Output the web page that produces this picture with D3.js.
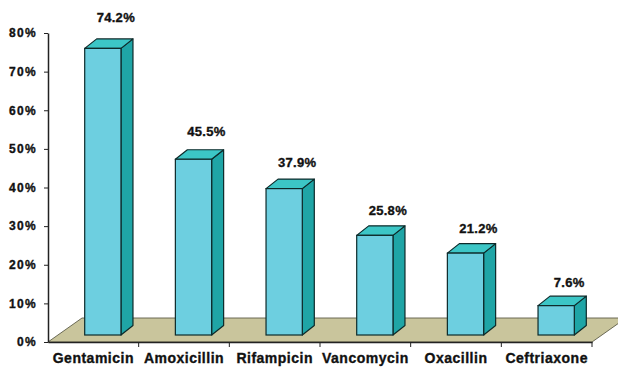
<!DOCTYPE html>
<html><head><meta charset="utf-8">
<script src="https://cdn.jsdelivr.net/npm/d3@7"></script>
<style>
html,body{margin:0;padding:0;background:#fff;}
svg{display:block;font-family:"Liberation Sans",Arial,sans-serif;font-weight:bold;}
svg text{stroke:#111;stroke-width:0.35px;}
</style></head>
<body>
<svg id="chart" width="618" height="373"></svg>
<script>
const categories = ["Gentamicin","Amoxicillin","Rifampicin","Vancomycin","Oxacillin","Ceftriaxone"];
const values = [74.2, 45.5, 37.9, 25.8, 21.2, 7.6];
const valueLabels = ["74.2%","45.5%","37.9%","25.8%","21.2%","7.6%"];
const yTicks = [0,10,20,30,40,50,60,70,80];

const svg = d3.select("#chart");
const x = d3.scaleBand().domain(categories).range([48, 592]).paddingInner(0).paddingOuter(0);
const y = d3.scaleLinear().domain([0, 80]).range([342, 33]);

// floor depth and bar depth
const fdx = 34, fdy = -24;
const bdx = 12, bdy = -9.5;
const lift = 7, shift = 9.5;
const bw = x.bandwidth() * 0.4;

// floor
const x0 = x.range()[0], x1 = x.range()[1], yb = y(0);
svg.append("path")
  .attr("d", `M${x0},${yb}L${x1},${yb}L${x1+fdx},${yb+fdy}L${x0+fdx},${yb+fdy}Z`)
  .attr("fill", "#c9c59c").attr("stroke", "#5e5c48").attr("stroke-width", 0.9);

// y axis
const yAxis = d3.axisLeft(y).tickValues(yTicks).tickFormat(d => d + "%").tickSize(4).tickSizeOuter(0);
const gy = svg.append("g").attr("transform", `translate(${x0},0)`).call(yAxis);
gy.select(".domain").attr("stroke", "#222").attr("stroke-width", 1.5);
gy.selectAll(".tick line").attr("stroke", "#222");
gy.selectAll(".tick text").attr("x", -11).attr("font-size", 12).attr("font-weight", "bold")
  .attr("font-family", "Liberation Sans, Arial, sans-serif").attr("fill", "#111")
  .style("letter-spacing", "1.3px");

// bars
const g = svg.append("g");
categories.forEach((c, i) => {
  const v = values[i];
  const cx = x(c) + x.bandwidth() / 2 + shift;
  const xl = cx - bw / 2, xr = cx + bw / 2;
  const yt = y(v) - lift, ybot = y(0) - lift;
  const bar = g.append("g");
  // side
  bar.append("path")
    .attr("d", `M${xr},${ybot}L${xr+bdx},${ybot+bdy}L${xr+bdx},${yt+bdy}L${xr},${yt}Z`)
    .attr("fill", "#1fa5a6").attr("stroke", "#0d2a2a").attr("stroke-width", 1.2).attr("stroke-linejoin", "round");
  // top
  bar.append("path")
    .attr("d", `M${xl},${yt}L${xr},${yt}L${xr+bdx},${yt+bdy}L${xl+bdx},${yt+bdy}Z`)
    .attr("fill", "#3cc6c6").attr("stroke", "#0d2a2a").attr("stroke-width", 1.2).attr("stroke-linejoin", "round");
  // front
  bar.append("rect")
    .attr("x", xl).attr("y", yt).attr("width", bw).attr("height", ybot - yt)
    .attr("fill", "#6dcfe0").attr("stroke", "#0d2a2a").attr("stroke-width", 1.2);
  // value label
  bar.append("text")
    .attr("x", cx + 13).attr("y", yt - (22 + 0.12 * v) + 4.5)
    .attr("text-anchor", "middle").attr("font-size", 13).attr("fill", "#111")
    .style("letter-spacing", "0.3px")
    .text(valueLabels[i]);
});

// x axis
const xAxis = d3.axisBottom(x).tickSize(0).tickSizeOuter(0);
const gx = svg.append("g").attr("transform", `translate(0,${yb})`).call(xAxis);
gx.select(".domain").attr("stroke", "#222").attr("stroke-width", 1.5);
gx.selectAll(".tick text").attr("y", 17).attr("dy", "0.3em").attr("font-size", 14).attr("font-weight", "bold")
  .attr("font-family", "Liberation Sans, Arial, sans-serif").attr("fill", "#111")
  .style("letter-spacing", "0.5px");
// category separator ticks
const bounds = categories.map(c => x(c)).slice(1).concat([x1]);
gx.selectAll(".sep").data(bounds).enter().append("line")
  .attr("x1", d => d).attr("x2", d => d).attr("y1", 0).attr("y2", 5)
  .attr("stroke", "#222").attr("stroke-width", 1);
</script>
</body></html>
